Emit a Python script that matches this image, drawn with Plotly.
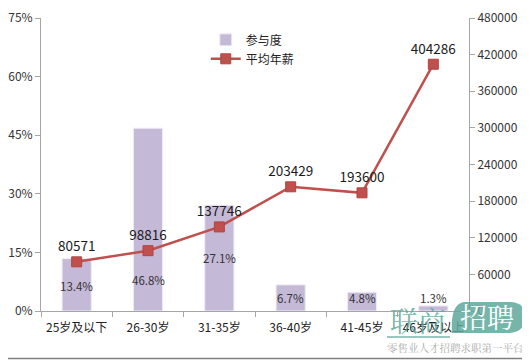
import plotly.graph_objects as go

categories = ["25岁及以下", "26-30岁", "31-35岁", "36-40岁", "41-45岁", "46岁及以上"]
participation = [13.4, 46.8, 27.1, 6.7, 4.8, 1.3]
avg_salary = [80571, 98816, 137746, 203429, 193600, 404286]
left_ticks = [0, 15, 30, 45, 60, 75]
left_tick_text = ["0%", "15%", "30%", "45%", "60%", "75%"]
right_ticks = [0, 60000, 120000, 180000, 240000, 300000, 360000, 420000, 480000]
bar_label_y = [6.4, 7.9, 13.5, 3.3, 3.3, 3.3]

FONT = "Noto Sans CJK SC"
SERIF = "Noto Serif CJK SC, Noto Sans CJK SC"
BAR = "#C5B9D8"
RED = "#C0504D"
AX = "#A6A6A6"

fig = go.Figure()
fig.add_trace(go.Bar(
    x=categories, y=participation, name="参与度",
    marker=dict(color=BAR, line=dict(color="#F2EEF7", width=1)),
    width=0.41, yaxis="y",
))
fig.add_trace(go.Scatter(
    x=categories, y=avg_salary, name="平均年薪", yaxis="y2",
    mode="lines+markers+text",
    line=dict(color=RED, width=2.5),
    marker=dict(symbol="square", size=10, color=RED, line=dict(color="#B04440", width=1)),
    text=[str(v) for v in avg_salary], textposition="top center",
    textfont=dict(family=FONT, size=13.5, color="#1a1a1a"),
))

annotations = []
for c, v, ly in zip(categories, participation, bar_label_y):
    annotations.append(dict(x=c, y=ly, xref="x", yref="y", text=f"{v}%",
                            showarrow=False, font=dict(family=FONT, size=11.5, color="#333")))

# page pixel -> paper coords (page has 8px body margin; plot area spans page x 41..469, y 18..311)
TOP, BOT = 18, 311
def px(xp): return (xp - 41) / 428
def py(yp): return (BOT - yp) / (BOT - TOP)

WM = "rgba(95,168,155,0.85)"
shapes = [
    dict(type="line", xref="paper", yref="paper", x0=px(529), x1=px(529), y0=py(359), y1=py(8),
         line=dict(color="#808080", width=1.5), layer="above"),
    dict(type="line", xref="paper", yref="paper", x0=px(8), x1=px(529), y0=py(358.5), y1=py(358.5),
         line=dict(color="#808080", width=1.5), layer="above"),
    dict(type="path", xref="paper", yref="paper",
         path=f"M {px(464)},{py(302)} L {px(510)},{py(302)} Q {px(525)},{py(302)} {px(525)},{py(317)} "
              f"Q {px(525)},{py(332)} {px(510)},{py(333)} L {px(452)},{py(333)} Q {px(450)},{py(304)} {px(464)},{py(302)} Z",
         fillcolor=WM, line=dict(width=0), layer="above"),
    dict(type="line", xref="paper", yref="paper", x0=px(387), x1=px(450), y0=py(337), y1=py(337),
         line=dict(color=WM, width=1.5), layer="above"),
]
annotations += [
    dict(xref="paper", yref="paper", x=px(418), y=py(320), xanchor="center", yanchor="middle",
         text="联商", showarrow=False, font=dict(family=SERIF, size=28, color="rgba(95,168,155,0.85)")),
    dict(xref="paper", yref="paper", x=px(487), y=py(316), xanchor="center", yanchor="middle",
         text="招聘", showarrow=False, font=dict(family=SERIF, size=27, color="white")),
    dict(xref="paper", yref="paper", x=px(455), y=py(348), xanchor="center", yanchor="middle",
         text="零售业人才招聘求职第一平台", showarrow=False, font=dict(family=SERIF, size=10.5, color="#AAAAAA")),
]

fig.update_layout(
    width=522, height=352,
    margin=dict(l=33, r=61, t=10, b=49, autoexpand=False),
    paper_bgcolor="white", plot_bgcolor="white",
    font=dict(family=FONT, size=12, color="#333"),
    showlegend=True,
    legend=dict(x=0.385, y=0.975, xanchor="left", yanchor="top", bgcolor="rgba(0,0,0,0)",
                font=dict(family=FONT, size=12, color="#222"), tracegroupgap=8, itemwidth=30),
    xaxis=dict(showline=True, linecolor=AX, linewidth=1, ticks="outside", tickson="boundaries",
               ticklen=5, tickcolor=AX, showgrid=False, automargin=False, ticklabeloverflow="allow",
               ticklabelstandoff=6, tickfont=dict(size=12, color="#222")),
    yaxis=dict(range=[0, 75], tickvals=left_ticks, ticktext=left_tick_text, showline=True,
               linecolor=AX, linewidth=1, ticks="outside", ticklen=5, tickcolor=AX, automargin=False,
               ticklabeloverflow="allow",
               showgrid=False, zeroline=False, tickfont=dict(size=12, color="#333")),
    yaxis2=dict(range=[0, 480000], tickvals=right_ticks, tickformat="d", overlaying="y", side="right",
                showline=True, linecolor=AX, linewidth=1, ticks="outside", ticklen=5, tickcolor=AX,
                automargin=False, ticklabeloverflow="allow",
                showgrid=False, zeroline=False, tickfont=dict(size=12, color="#333")),
    annotations=annotations, shapes=shapes, bargap=0.5,
)
fig.write_html("out.html")
